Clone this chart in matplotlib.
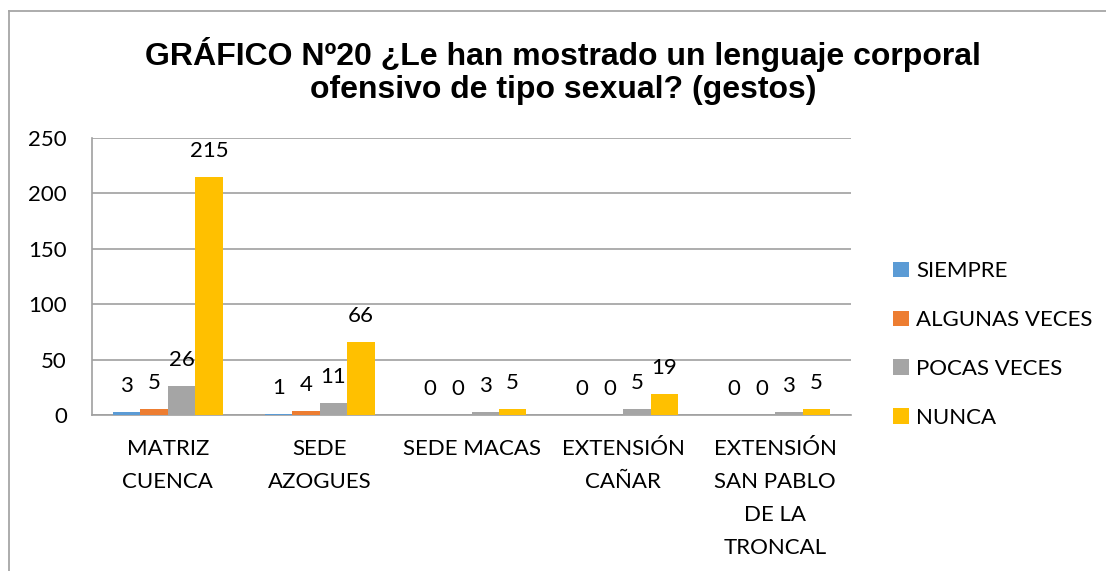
import matplotlib.pyplot as plt
import numpy as np
from matplotlib.lines import Line2D

categories = ["MATRIZ\nCUENCA", "SEDE\nAZOGUES", "SEDE MACAS",
              "EXTENSIÓN\nCAÑAR", "EXTENSIÓN\nSAN PABLO\nDE LA\nTRONCAL"]
series = ["SIEMPRE", "ALGUNAS VECES", "POCAS VECES", "NUNCA"]
siempre = [3, 1, 0, 0, 0]
algunas = [5, 4, 0, 0, 0]
pocas = [26, 11, 3, 5, 3]
nunca = [215, 66, 5, 19, 5]
colors = ["#5B9BD5", "#ED7D31", "#A5A5A5", "#FFC000"]
title = "GRÁFICO Nº20 ¿Le han mostrado un lenguaje corporal\nofensivo de tipo sexual? (gestos)"

W, H = 1106, 571
fig = plt.figure(figsize=(W / 100, H / 100), dpi=100)
ax = fig.add_axes([92 / W, 1 - 415 / H, 759 / W, 277 / H])

# outer chart border (cropped at right and bottom)
fig.add_artist(Line2D([9 / W, 1], [1 - 11 / H, 1 - 11 / H], color="#a6a6a6", lw=1.3))
fig.add_artist(Line2D([9 / W, 9 / W], [1 - 11 / H, 0], color="#a6a6a6", lw=1.3))

font = "Lato"
fs = 16
x = np.arange(len(categories))
w = 0.181
for i, (vals, name) in enumerate(zip([siempre, algunas, pocas, nunca], series)):
    pos = x + (i - 1.5) * w
    ax.bar(pos, vals, w, color=colors[i], label=name, zorder=3)
    for px, v in zip(pos, vals):
        ax.annotate(str(v), (px, v), xytext=(0, 20), textcoords="offset pixels",
                    ha="center", va="baseline", fontsize=fs, family=font)

ax.set_xlim(-0.5, len(categories) - 0.5)
ax.set_ylim(0, 250)
ax.set_yticks(range(0, 251, 50))
ax.yaxis.grid(True, color="#a0a0a0", lw=1.2, zorder=0)
ax.set_axisbelow(True)
for s in ["top", "right"]:
    ax.spines[s].set_visible(False)
ax.spines["left"].set_color("#a0a0a0")
ax.spines["bottom"].set_color("#a0a0a0")
ax.spines["left"].set_linewidth(1.2)
ax.spines["bottom"].set_linewidth(1.2)
ax.set_xticks(x)
ax.set_xticklabels(categories, fontsize=fs, family=font, linespacing=1.82)
ax.tick_params(axis="both", length=0)
ax.tick_params(axis="x", pad=17)
ax.tick_params(axis="y", pad=18)
for t in ax.get_yticklabels():
    t.set_fontsize(fs)
    t.set_family(font)

fig.text(563 / W, 1 - 98 / H, title, ha="center", va="baseline",
         fontsize=23, fontweight="bold", family="Liberation Sans",
         linespacing=1.15)

ax.legend(loc="center left", bbox_to_anchor=(893 / W, 1 - 344.5 / H),
          bbox_transform=fig.transFigure, frameon=False, borderpad=0,
          borderaxespad=0, handlelength=0.7, handleheight=0.7,
          handletextpad=0.35, labelspacing=1.3,
          prop={"family": font, "size": fs})

fig.savefig("out.png", dpi=100)
